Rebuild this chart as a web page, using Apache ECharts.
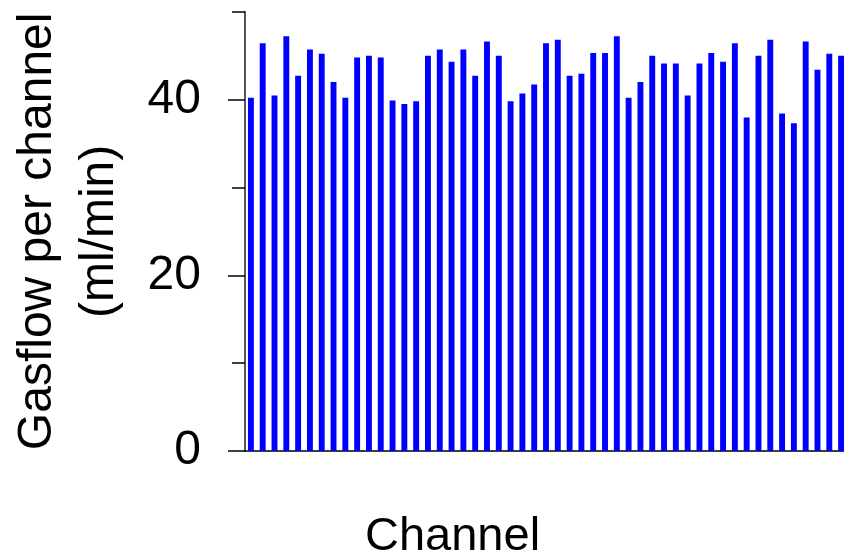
<!DOCTYPE html>
<html>
<head>
<meta charset="utf-8">
<script src="https://cdn.jsdelivr.net/npm/echarts@6/dist/echarts.min.js"></script>
<style>
  html, body { margin: 0; padding: 0; background: #fff; }
  #chart { width: 844px; height: 554px; }
</style>
</head>
<body>
<div id="chart"></div>
<script>
// Channel numbers (not printed on the axis)
const channels = [
  1, 2, 3, 4, 5, 6, 7, 8, 9, 10,
  11, 12, 13, 14, 15, 16, 17, 18, 19, 20,
  21, 22, 23, 24, 25, 26, 27, 28, 29, 30,
  31, 32, 33, 34, 35, 36, 37, 38, 39, 40,
  41, 42, 43, 44, 45, 46, 47, 48, 49, 50,
  51
];

// Measured gas flow per channel, ml/min
const gasflow = [
  40.2, 46.4, 40.45, 47.2, 42.7, 45.7, 45.2, 42.0, 40.2, 44.8,
  45.0, 44.8, 39.9, 39.5, 39.8, 45.0, 45.7, 44.3, 45.7, 42.7,
  46.6, 45.0, 39.8, 40.7, 41.7, 46.4, 46.8, 42.7, 42.95, 45.3,
  45.3, 47.2, 40.2, 42.0, 45.0, 44.1, 44.1, 40.45, 44.1, 45.3,
  44.3, 46.4, 37.95, 45.0, 46.8, 38.4, 37.3, 46.6, 43.4, 45.2,
  45.0
];

// Tick positions on the flow axis
const majorTicks = [0, 20, 40];
const minorTicks = [10, 30, 50];

const FONT = "'Liberation Sans', Arial, Helvetica, sans-serif";

const chart = echarts.init(document.getElementById('chart'), null, { renderer: 'canvas' });

chart.setOption({
  animation: false,
  backgroundColor: '#ffffff',
  grid: {
    left: 245,
    right: -3,
    top: 11.7,
    bottom: 103,
    containLabel: false,
    outerBoundsMode: 'none'
  },
  xAxis: {
    type: 'category',
    data: channels,
    boundaryGap: true,
    axisLine: { show: true, lineStyle: { color: '#000', width: 1.5 } },
    axisTick: { show: false },
    axisLabel: { show: false },
    splitLine: { show: false }
  },
  yAxis: [
    {
      type: 'value',
      min: 0,
      max: 50,
      interval: 10,
      position: 'left',
      name: 'Gasflow per channel\n(ml/min)',
      nameLocation: 'middle',
      nameRotate: 90,
      nameGap: 114,
      nameTextStyle: {
        fontFamily: FONT,
        fontSize: 48,
        lineHeight: 62,
        color: '#000',
        align: 'center'
      },
      axisLine: { show: true, lineStyle: { color: '#555', width: 2 } },
      axisTick: {
        show: true,
        length: 17,
        customValues: majorTicks,
        lineStyle: { color: '#000', width: 1.5 }
      },
      axisLabel: {
        show: true,
        customValues: majorTicks,
        margin: 44,
        fontFamily: FONT,
        fontSize: 48,
        color: '#000',
        padding: [15, 0, 0, 0]
      },
      splitLine: { show: false }
    },
    {
      type: 'value',
      min: 0,
      max: 50,
      interval: 10,
      position: 'left',
      offset: 0,
      axisLine: { show: false },
      axisTick: {
        show: true,
        length: 13,
        customValues: minorTicks,
        lineStyle: { color: '#000', width: 1.5 }
      },
      axisLabel: { show: false },
      splitLine: { show: false }
    }
  ],
  series: [
    {
      type: 'bar',
      data: gasflow,
      xAxisIndex: 0,
      yAxisIndex: 0,
      barWidth: '50%',
      itemStyle: { color: '#0000ff' }
    }
  ],
  graphic: [
    {
      type: 'text',
      left: 365,
      top: 514,
      style: {
        text: 'Channel',
        fontFamily: FONT,
        fontSize: 47,
        fill: '#000'
      }
    }
  ]
});
</script>
</body>
</html>
